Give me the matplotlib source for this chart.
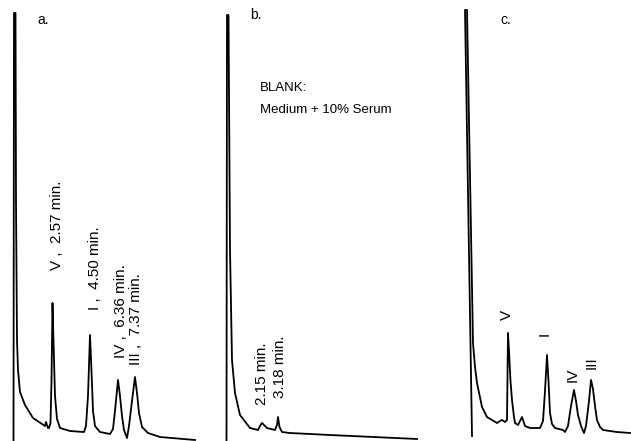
import matplotlib
matplotlib.use("Agg")
import matplotlib.pyplot as plt

plt.rcParams['font.family'] = ['Liberation Sans', 'DejaVu Sans']

# Traces.
# x = chart position from the injection mark, y = detector response (chart units)
a_pos = [-0.5, 0, 1.5, 2, 3, 4, 6, 11, 19, 31, 32, 34, 35, 36.5, 37.5, 38.5, 39.5,
         41, 43, 46, 56, 70, 72, 74, 76, 77.5, 79, 81, 86, 96, 99, 101, 104, 106,
         108, 110, 113, 115, 118, 121, 123, 125, 128, 134, 146, 181]
a_resp = [0, 428, 428, 241, 101, 71, 49, 36, 23, 15, 19, 13, 13, 18, 60, 138, 100,
          45, 22, 13, 10, 9, 15, 45, 106, 70, 30, 15, 9, 7, 12, 30, 61, 45, 25, 11,
          3, 15, 40, 64, 48, 28, 14, 8, 4, 1]

b_pos = [-0.5, 0, 1.5, 3, 5, 8, 13, 23, 31, 33, 35, 40, 48, 50, 51, 52.5, 55, 63,
         103, 190]
b_resp = [0, 426, 426, 191, 81, 48, 26, 13, 11, 15, 18, 13, 11, 16, 24, 14, 9, 8,
          6, 2]

c_pos = [0, -7, -5, 1, 3, 5, 10, 15, 25, 28, 30, 33, 35, 36, 37, 38.5, 40, 42, 43,
         46, 50, 53, 58, 68, 71, 73, 75, 76.5, 78, 80, 83, 91, 93, 96, 99, 102, 104,
         106, 109, 112, 114, 117, 119, 121, 123, 125, 128, 131, 145, 158]
c_resp = [5, 431, 431, 98, 74, 58, 34, 24, 18, 20, 21, 19, 21, 108, 90, 60, 41, 24,
          18, 16, 24, 15, 13, 13, 20, 50, 86, 60, 28, 17, 13, 11, 9, 15, 35, 51, 40,
          26, 15, 8, 15, 40, 61, 52, 35, 21, 14, 11, 9, 8]

# peak labels: (text, position, response at label start)
a_labels = [("V ,  2.57 min.", 43, 171), ("I ,  4.50 min.", 81, 131),
            ("IV ,  6.36 min.", 107, 83), ("III ,  7.37 min.", 122, 76)]
b_labels = [("2.15 min.", 35, 36), ("3.18 min.", 53, 43)]
c_labels = [("V", 35, 126), ("I", 73, 107), ("IV", 101, 66), ("III", 120, 78)]

W, H = 631, 441
fig = plt.figure(figsize=(W / 100, H / 100), dpi=100)

# panel: (left px, width px, injection px)
panels = [(0, 210, 14), (210, 210, 227), (420, 211, 472)]
axes = []
for left, width, inj in panels:
    ax = fig.add_axes([left / W, 0, width / W, 1])
    ax.set_xlim(left - inj, left - inj + width)
    ax.set_ylim(0, H)
    ax.axis('off')
    axes.append(ax)

ax_a, ax_b, ax_c = axes

ax_a.plot(a_pos, a_resp, color='black', lw=1.3)
ax_a.text(23, 421, "a.", fontsize=10, ha='left', va='center')
for txt, x, y in a_labels:
    ax_a.text(x, y, txt, rotation=90, fontsize=11, ha='center', va='bottom')

ax_b.plot(b_pos, b_resp, color='black', lw=1.3)
ax_b.text(23, 426, "b.", fontsize=10, ha='left', va='center')
ax_b.text(33, 353, "BLANK:", fontsize=9.5, ha='left', va='center')
ax_b.text(33, 331, "Medium + 10% Serum", fontsize=9.5, ha='left', va='center')
for txt, x, y in b_labels:
    ax_b.text(x, y, txt, rotation=90, fontsize=11, ha='center', va='bottom')

ax_c.plot(c_pos, c_resp, color='black', lw=1.3)
ax_c.text(28, 421, "c.", fontsize=10, ha='left', va='center')
for txt, x, y in c_labels:
    ax_c.text(x, y, txt, rotation=90, fontsize=11, ha='center', va='center')

fig.savefig("out.png", dpi=100)
